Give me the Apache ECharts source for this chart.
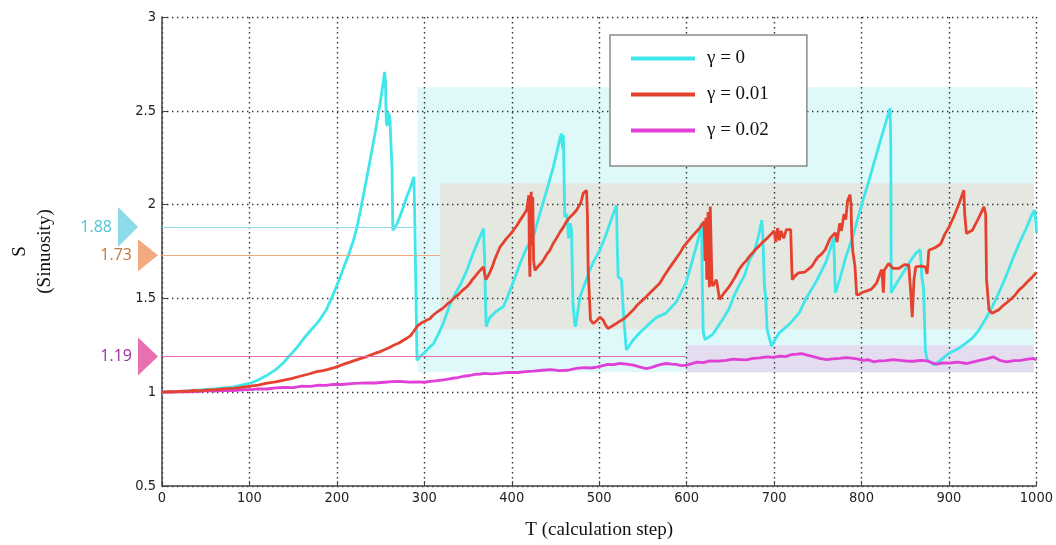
<!DOCTYPE html>
<html>
<head>
<meta charset="utf-8">
<script src="https://cdn.jsdelivr.net/npm/echarts@6/dist/echarts.min.js"></script>
<style>
  html, body { margin: 0; padding: 0; background: #fff; }
  #chart { width: 1056px; height: 545px; }
</style>
</head>
<body>
<div id="chart"></div>
<script>
// Sinuosity S versus calculation step T for three values of gamma.
const seriesNames = ['γ = 0', 'γ = 0.01', 'γ = 0.02'];

const gamma0 = [
  [0,1.000],[20,1.003],[44,1.012],[60,1.018],[82,1.028],[101,1.048],[110,1.065],[120,1.09],[130,1.12],
  [139.5,1.16],[147,1.20],[154.7,1.24],[162,1.285],[170,1.33],[176,1.36],[181,1.39],[188,1.44],
  [194.6,1.508],[201,1.58],[208,1.668],[214,1.74],[219,1.81],[223,1.88],[227,1.97],[232,2.09],
  [238,2.237],[244,2.39],[250,2.556],[253,2.65],[254.6,2.707],[255.5,2.66],[256.5,2.44],[257.5,2.42],
  [258.5,2.49],[260.5,2.47],[262,2.46],[263,2.2],[264,1.864],[266,1.875],[269,1.90],[274,1.96],
  [279,2.03],[284,2.09],[288,2.148],[289,1.95],[290.5,1.5],[291.6,1.17],[295,1.19],[300,1.21],
  [305,1.235],[310.6,1.26],[316,1.31],[322,1.37],[329.7,1.473],[336,1.53],[342,1.58],[348.7,1.65],
  [355,1.73],[361,1.80],[367.7,1.872],[369,1.70],[369.6,1.562],[370.7,1.35],[375,1.40],[382,1.43],
  [390.5,1.456],[396,1.52],[402,1.59],[409.5,1.686],[417,1.77],[424.7,1.828],[432,1.95],[440,2.076],
  [447.5,2.20],[452,2.29],[455.5,2.36],[457,2.378],[458,2.30],[459,2.37],[460,2.10],[460.6,1.934],
  [463,1.95],[465,1.82],[467,1.90],[468.4,1.863],[469,1.70],[470,1.473],[472,1.367],[473,1.35],
  [478,1.509],[483,1.57],[489,1.65],[494,1.70],[500.7,1.757],[507,1.83],[513,1.91],[519.8,1.996],
  [520.5,1.80],[521.7,1.615],[525.5,1.60],[528,1.40],[531,1.225],[533,1.22],[538.8,1.278],[547,1.32],
  [556,1.36],[566,1.40],[576,1.42],[588,1.48],[599,1.58],[604,1.66],[610,1.76],[614,1.83],[617,1.90],
  [617.5,1.75],[618,1.55],[619,1.32],[621,1.28],[630,1.31],[640,1.38],[648,1.44],[654,1.512],
  [660,1.57],[666,1.62],[672,1.707],[677,1.743],[682,1.83],[686,1.917],[687,1.85],[689,1.566],
  [690.5,1.50],[692,1.335],[697,1.246],[701,1.28],[706,1.317],[717,1.36],[729,1.424],[736,1.495],
  [747,1.58],[759,1.69],[764,1.76],[768,1.823],[769,1.70],[770,1.53],[775,1.60],[782,1.72],[790,1.83],
  [800,1.997],[808,2.12],[816,2.25],[824,2.38],[832.7,2.514],[833.5,2.3],[834,1.53],[840,1.58],
  [848,1.64],[856,1.70],[862,1.74],[867,1.76],[868,1.70],[869,1.615],[871,1.55],[873,1.225],
  [875,1.172],[879,1.16],[883,1.145],[890,1.17],[900,1.207],[910,1.23],[919,1.26],[927,1.29],
  [934,1.33],[942,1.39],[949.6,1.456],[957,1.53],[965,1.615],[972,1.70],[980,1.79],[988,1.87],
  [995.4,1.952],[998,1.97],[999.5,1.90],[1000,1.85]
];

const gamma001 = [
  [0,1.0],[8,1.003],[15,1.002],[22,1.006],[30,1.005],[37,1.009],[44,1.007],[52,1.012],[60,1.012],
  [70,1.018],[82,1.02],[91,1.026],[101,1.032],[110,1.038],[120,1.048],[130,1.055],[139.5,1.064],
  [148,1.072],[158,1.085],[168,1.097],[177,1.11],[184,1.115],[190,1.122],[196,1.13],[200,1.135],
  [207,1.148],[215,1.16],[224,1.175],[234,1.19],[240,1.2],[245,1.21],[249,1.215],[253,1.224],
  [259,1.236],[265,1.25],[271,1.262],[276,1.277],[280,1.288],[284,1.30],[288,1.325],[291.6,1.35],
  [294,1.36],[297,1.37],[300,1.377],[303,1.385],[306,1.39],[310,1.41],[314,1.425],[318,1.438],
  [321,1.447],[324,1.46],[327,1.473],[329.7,1.482],[333,1.497],[336,1.51],[339,1.52],[342,1.535],
  [345,1.548],[348.7,1.562],[352,1.58],[355,1.60],[359,1.622],[362,1.64],[365,1.655],[367.7,1.668],
  [369,1.63],[370.5,1.60],[373,1.62],[375,1.64],[378,1.672],[380,1.70],[383,1.735],[386.7,1.775],
  [390,1.795],[394,1.82],[398,1.84],[401.9,1.863],[406,1.89],[410,1.92],[414,1.948],[417,1.97],
  [418.5,1.96],[419.5,2.05],[420.2,1.70],[420.8,1.615],[421.5,2.0],[422.3,2.068],[423,1.78],
  [424,2.04],[425,1.70],[426.5,1.65],[430,1.67],[434,1.69],[437,1.71],[440,1.735],[443.7,1.757],
  [447,1.79],[451,1.82],[455,1.852],[459,1.88],[462,1.905],[465,1.925],[468,1.94],[470.3,1.95],
  [474,1.97],[476,1.96],[479,2.01],[481.7,2.06],[485.5,2.076],[486.5,1.95],[487.4,1.65],[490,1.385],
  [493,1.367],[497,1.38],[500.7,1.40],[504.5,1.385],[507,1.36],[510,1.34],[514,1.35],[519.8,1.367],
  [524,1.38],[528,1.39],[533,1.412],[538.8,1.438],[543,1.462],[547,1.48],[552,1.5],[556,1.52],
  [562,1.548],[569,1.58],[575,1.625],[580,1.66],[586,1.7],[592.5,1.743],[596,1.772],[600,1.796],
  [604,1.818],[608,1.84],[612,1.86],[615,1.876],[620,1.91],[621,1.70],[622,1.93],[623,1.60],
  [624.5,1.96],[626,1.56],[627,1.99],[628,2.0],[629,1.58],[630,1.565],[634,1.60],[637.7,1.495],
  [643,1.53],[649,1.565],[655,1.61],[660,1.654],[664,1.68],[668,1.70],[672,1.725],[675.5,1.743],
  [679,1.762],[683,1.78],[687,1.8],[690.6,1.814],[696,1.84],[700,1.86],[702,1.80],[704,1.875],
  [706,1.81],[708,1.86],[711,1.82],[714,1.867],[719,1.867],[720,1.70],[720.8,1.60],[724,1.62],
  [728,1.636],[735,1.64],[739,1.655],[743.4,1.672],[747,1.7],[750,1.72],[754,1.735],[758.5,1.76],
  [764,1.82],[770,1.85],[772,1.80],[775,1.90],[777,1.86],[780,1.95],[782,1.92],[784,2.02],
  [786.8,2.053],[788,2.0],[788.7,1.85],[790,1.75],[792.5,1.672],[794.4,1.52],[797,1.52],[800,1.53],
  [806,1.54],[811,1.548],[817,1.58],[823,1.654],[824,1.60],[825,1.53],[826,1.65],[831,1.686],
  [836,1.66],[842.7,1.66],[849,1.68],[854,1.677],[856,1.55],[858,1.40],[860,1.60],[862,1.668],
  [868,1.672],[873,1.668],[875,1.63],[877,1.757],[884,1.77],[890.5,1.79],[895,1.84],[900,1.88],
  [906,1.94],[911.5,2.005],[917,2.076],[918,1.95],[920,1.846],[926.7,1.863],[933,1.92],[940,1.988],
  [942,1.95],[943,1.60],[945.8,1.438],[949.6,1.42],[953,1.43],[957,1.44],[961,1.458],[965,1.473],
  [968,1.485],[972,1.50],[976,1.52],[980,1.544],[985,1.565],[990,1.59],[995,1.612],[999,1.633],
  [1000,1.64]
];

const gamma002 = [
  [0,1.0],[10,1.001],[20,1.003],[30,1.002],[44,1.005],[52,1.008],[60,1.006],[72,1.010],[82,1.009],
  [92,1.013],[101.5,1.014],[110,1.018],[120,1.017],[130,1.023],[140,1.025],[150,1.024],[160,1.032],
  [170,1.031],[178,1.037],[187,1.036],[196,1.042],[206,1.041],[216,1.046],[226,1.048],[235,1.05],
  [244,1.049],[254,1.053],[263,1.056],[272,1.058],[282,1.054],[292,1.055],[300,1.053],[307,1.058],
  [315,1.062],[322,1.066],[330.5,1.073],[338,1.078],[345,1.085],[352,1.089],[358,1.095],[364,1.097],
  [368.7,1.10],[376,1.098],[385,1.10],[395,1.106],[407,1.105],[416,1.11],[425,1.112],[435,1.117],
  [445,1.12],[454,1.115],[464,1.117],[474,1.127],[483,1.131],[491,1.129],[498.5,1.135],[504,1.142],
  [510,1.148],[517,1.147],[523.7,1.153],[531,1.15],[539,1.144],[546,1.135],[554,1.126],[560,1.132],
  [565,1.14],[571,1.148],[577,1.153],[583,1.15],[588,1.148],[594,1.142],[600,1.144],[606,1.152],
  [612,1.16],[619,1.158],[626.7,1.167],[636,1.166],[645,1.17],[653,1.176],[661,1.174],[668,1.172],
  [676,1.18],[684,1.183],[691.6,1.188],[699,1.186],[706.9,1.192],[713,1.19],[720,1.20],[726,1.203],
  [731.7,1.206],[738,1.198],[745,1.19],[752,1.18],[760,1.174],[767,1.178],[775,1.18],[783,1.184],
  [790.8,1.18],[796,1.176],[802,1.17],[808,1.173],[813.7,1.162],[820,1.167],[828,1.168],[836,1.174],
  [844,1.17],[852,1.166],[860,1.165],[867,1.17],[874.8,1.167],[880,1.158],[886,1.15],[893,1.156],
  [900,1.155],[910,1.16],[920.6,1.153],[928,1.162],[935,1.17],[943,1.178],[951,1.188],[958,1.17],
  [966,1.162],[974,1.168],[982,1.17],[990,1.176],[997,1.18],[999,1.19],[1000,1.17]
];

// Shaded bands: [T start, T end, S top, S bottom]
const bandGamma0 = [292, 997, 2.626, 1.107];
const bandGamma001 = [318, 997, 2.114, 1.336];
const bandGamma002 = [599, 997, 1.25, 1.107];

// Reference levels marked on the S axis and where each guide line ends on T
const levelValues = [1.88, 1.73, 1.19];
const levelEnds = [292, 318, 599];

const xTicks = { min: 0, max: 1000, interval: 100 };
const yTicks = { min: 0.5, max: 3, interval: 0.5 };

const lineColors = ['#3fe6ea', '#e5412f', '#e040d6'];
const bandColors = ['#dff9fb', '#e5e7e1', '#e4dcef'];
const levelColors = ['#8ddbea', '#f4aa80', '#e870b0'];
const levelTextColors = ['#4fc3d9', '#c07840', '#a0309f'];
const levelMarker = [
  { size: [20, 40], offset: -34 },
  { size: [20, 32], offset: -14 },
  { size: [20, 38], offset: -14 }
];

const tickFont = "'DejaVu Sans Condensed', 'Liberation Sans Narrow', 'Liberation Sans', sans-serif";
const serifFont = "'Liberation Serif', 'DejaVu Serif', serif";

function band(b, color) {
  return [{ coord: [b[0], b[2]], itemStyle: { color: color } }, { coord: [b[1], b[3]] }];
}

const chart = echarts.init(document.getElementById('chart'), null, { renderer: 'canvas' });

const gridDots = { color: '#333', width: 1.4, type: [1.4, 3.6] };

const option = {
  animation: false,
  backgroundColor: '#ffffff',
  grid: { left: 161, right: 18, top: 17, bottom: 59, containLabel: false },
  legend: {
    data: seriesNames,
    orient: 'vertical',
    left: 610,
    top: 35,
    icon: 'rect',
    itemWidth: 64,
    itemHeight: 4,
    itemGap: 15,
    padding: [13, 38, 25, 21],
    backgroundColor: '#ffffff',
    borderColor: '#8a8a8a',
    borderWidth: 1.5,
    borderRadius: 0,
    textStyle: { fontFamily: serifFont, fontSize: 19, color: '#111', lineHeight: 21, padding: [0, 0, 0, 7] }
  },
  xAxis: {
    type: 'value',
    min: xTicks.min, max: xTicks.max, interval: xTicks.interval,
    z: 1.5,
    name: 'T (calculation step)',
    nameLocation: 'middle',
    nameGap: 35,
    nameTextStyle: { fontFamily: serifFont, fontSize: 19, color: '#111' },
    axisLine: { show: true, lineStyle: { color: '#444', width: 1.5 } },
    axisTick: { show: true, inside: true, length: 5, lineStyle: { color: '#444' } },
    axisLabel: { fontFamily: tickFont, fontSize: 14.5, color: '#222', margin: 5, formatter: v => String(v) },
    splitLine: { show: true, lineStyle: gridDots }
  },
  yAxis: {
    type: 'value',
    min: yTicks.min, max: yTicks.max, interval: yTicks.interval,
    z: 1.5,
    name: 'S\n(Sinuosity)',
    nameLocation: 'middle',
    nameRotate: 90,
    nameGap: 104,
    nameTextStyle: { fontFamily: serifFont, fontSize: 19, color: '#111', lineHeight: 25 },
    axisLine: { show: true, lineStyle: { color: '#444', width: 1.5 } },
    axisTick: { show: true, inside: true, length: 5, lineStyle: { color: '#444' } },
    axisLabel: { fontFamily: tickFont, fontSize: 14.5, color: '#222', margin: 6, formatter: v => String(v) },
    splitLine: { show: true, lineStyle: gridDots }
  },
  series: [
    {
      // bands, guide lines and level markers sit beneath the grid and the curves
      name: 'bands',
      type: 'line',
      data: [],
      z: 1,
      silent: true,
      markArea: {
        silent: true,
        data: [
          band(bandGamma0, bandColors[0]),
          band(bandGamma001, bandColors[1]),
          band(bandGamma002, bandColors[2])
        ]
      },
      markLine: {
        silent: true,
        symbol: 'none',
        label: { show: false },
        data: levelValues.map((v, i) => [
          { coord: [0, v], lineStyle: { color: levelColors[i], width: 1, type: 'solid' } },
          { coord: [levelEnds[i], v] }
        ])
      },
      markPoint: {
        silent: true,
        data: levelValues.map((v, i) => ({
          coord: [0, v],
          symbol: 'path://M0,0 L20,20 L0,40 Z',
          symbolSize: levelMarker[i].size,
          symbolOffset: [levelMarker[i].offset, 0],
          itemStyle: { color: levelColors[i] },
          label: {
            show: true,
            position: 'left',
            distance: 6,
            formatter: v.toFixed(2),
            fontFamily: "'Open Sans', 'Noto Sans', sans-serif",
            fontSize: 16,
            color: levelTextColors[i]
          }
        }))
      }
    },
    {
      name: seriesNames[0], type: 'line', data: gamma0, z: 2,
      showSymbol: false, symbol: 'none',
      lineStyle: { color: lineColors[0], width: 2.8 }, itemStyle: { color: lineColors[0] }
    },
    {
      name: seriesNames[2], type: 'line', data: gamma002, z: 3,
      showSymbol: false, symbol: 'none',
      lineStyle: { color: lineColors[2], width: 2.8 }, itemStyle: { color: lineColors[2] }
    },
    {
      name: seriesNames[1], type: 'line', data: gamma001, z: 4,
      showSymbol: false, symbol: 'none',
      lineStyle: { color: lineColors[1], width: 2.8 }, itemStyle: { color: lineColors[1] }
    }
  ]
};

chart.setOption(option);
</script>
</body>
</html>
